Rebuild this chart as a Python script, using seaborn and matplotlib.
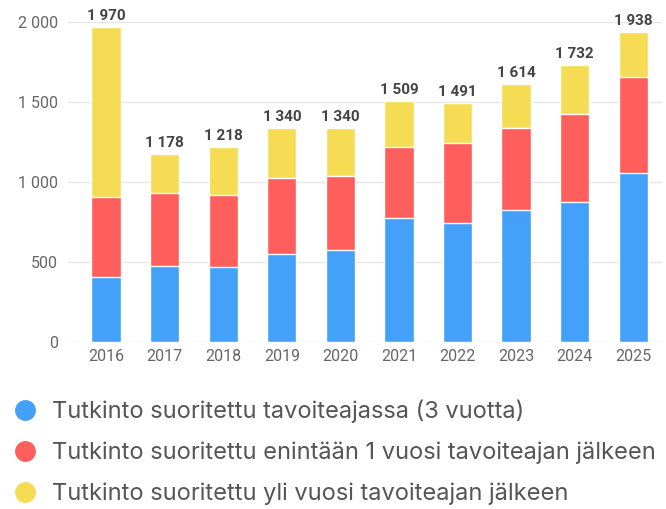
import matplotlib
matplotlib.use("Agg")
import matplotlib.pyplot as plt
from matplotlib.lines import Line2D
import numpy as np
import pandas as pd
import seaborn as sns

years = ["2016", "2017", "2018", "2019", "2020", "2021", "2022", "2023", "2024", "2025"]
on_time = [408, 477, 471, 548, 575, 773, 742, 825, 873, 1056]
within_year = [500, 456, 446, 475, 465, 444, 500, 512, 554, 598]
over_year = [1062, 245, 301, 317, 300, 292, 249, 277, 305, 284]
totals = [1970, 1178, 1218, 1340, 1340, 1509, 1491, 1614, 1732, 1938]

labels = [
    "Tutkinto suoritettu tavoiteajassa (3 vuotta)",
    "Tutkinto suoritettu enintään 1 vuosi tavoiteajan jälkeen",
    "Tutkinto suoritettu yli vuosi tavoiteajan jälkeen",
]
colors = ["#43a1fa", "#fe5e5c", "#f6db55"]


def fmt(v):
    return f"{int(v):,}".replace(",", " ")


sns.set_theme(style="white")
plt.rcParams["font.family"] = ["Roboto", "DejaVu Sans"]

df = pd.DataFrame({
    "year": years,
    "blue": on_time,
    "red": np.array(on_time) + np.array(within_year),
    "yellow": np.array(on_time) + np.array(within_year) + np.array(over_year),
})

fig = plt.figure(figsize=(6.66, 5.09), dpi=100)
ax = fig.add_axes([68 / 666, 1 - 342 / 509, (662 - 68) / 666, 320 / 509])

# overlay cumulative bars, tallest first
for col, c in zip(["yellow", "red", "blue"], colors[::-1]):
    sns.barplot(data=df, x="year", y=col, color=c, width=0.5, saturation=1,
                ax=ax, zorder=3)

for i, t in enumerate(totals):
    ax.text(i, t + 25, fmt(t), ha="center", va="bottom", fontsize=11,
            fontweight="bold", color="#444444", clip_on=False)

ax.set_ylim(0, 2000)
ax.set_xlim(-0.65, 9.49)
ax.set_yticks([0, 500, 1000, 1500, 2000])
ax.set_yticklabels([fmt(v) for v in [0, 500, 1000, 1500, 2000]])
ax.yaxis.grid(True, color="#e6e6e6", linewidth=1, zorder=0)
ax.set_axisbelow(True)
ax.tick_params(axis="both", length=0, labelsize=11.5, colors="#666666")
ax.tick_params(axis="y", pad=7)
ax.tick_params(axis="x", pad=5)
ax.set_xlabel("")
ax.set_ylabel("")
sns.despine(ax=ax, left=True, bottom=True)

handles = [Line2D([], [], marker="o", linestyle="", markersize=14,
                  markerfacecolor=c, markeredgecolor=c) for c in colors]
fig.legend(handles, labels, loc="upper left", bbox_to_anchor=(-0.012, 1 - 390 / 509),
           frameon=False, labelspacing=0.78, handletextpad=0.15, borderaxespad=0,
           labelcolor="#555555", prop={"family": ["Inter", "DejaVu Sans"], "size": 17})

fig.savefig("out.png", dpi=100)
